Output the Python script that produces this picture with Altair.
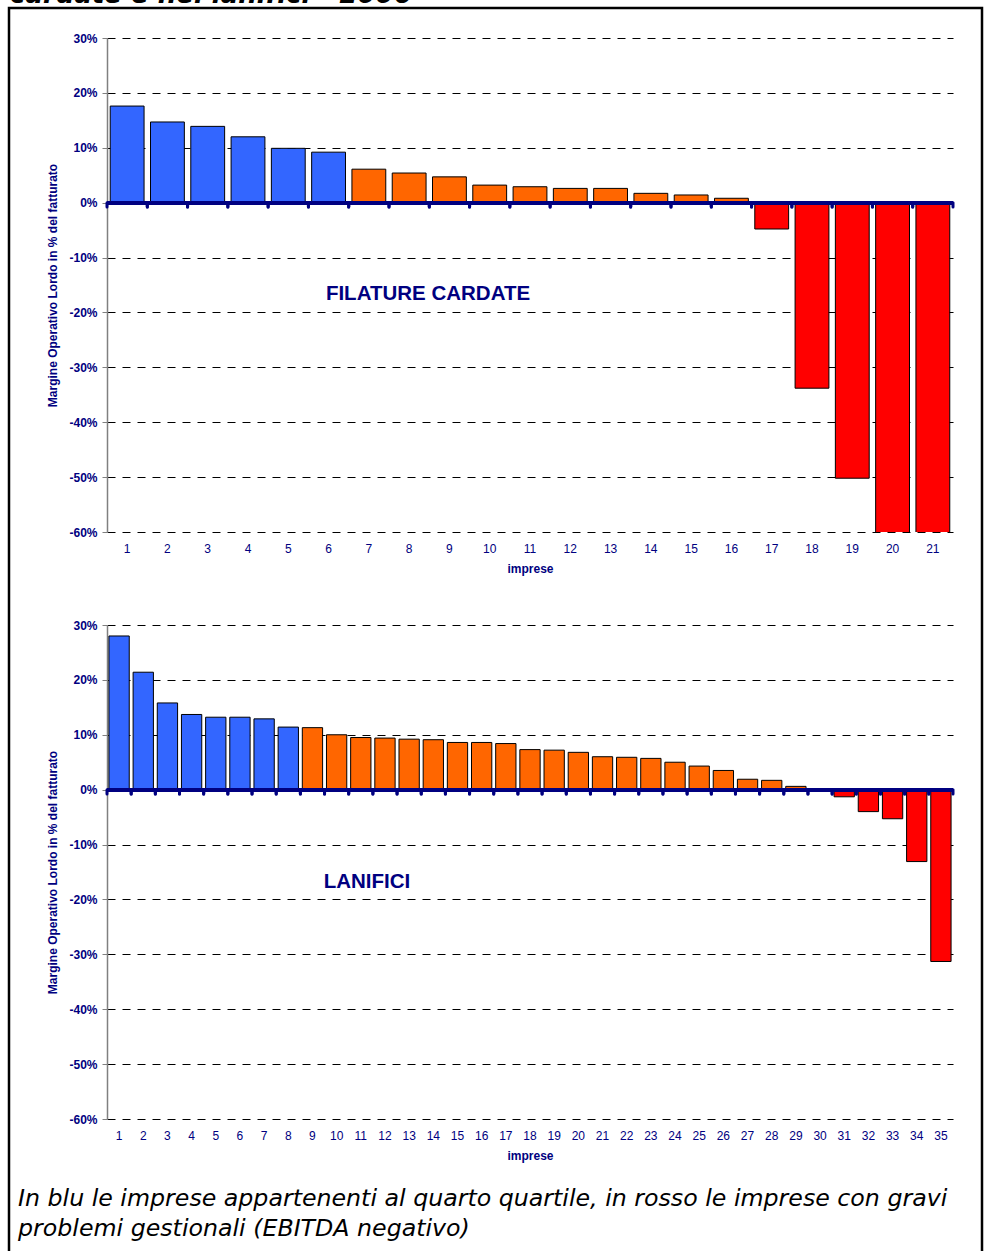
import altair as alt
import pandas as pd

# ---------------- data ----------------
top_imprese = list(range(1, 22))
top_margine = [17.6, 14.7, 13.9, 12.0, 9.9, 9.2, 6.1, 5.4, 4.7, 3.2, 2.9, 2.6, 2.6,
               1.7, 1.4, 0.8, -4.8, -33.8, -50.2, -64.0, -70.0]
top_gruppo = ["quarto quartile"] * 6 + ["intermedie"] * 10 + ["EBITDA negativo"] * 5

bot_imprese = list(range(1, 36))
bot_margine = [28.0, 21.4, 15.8, 13.7, 13.2, 13.2, 12.9, 11.4, 11.3, 10.0, 9.5, 9.4,
               9.2, 9.1, 8.6, 8.6, 8.4, 7.3, 7.2, 6.8, 6.0, 5.9, 5.7, 5.0, 4.3, 3.5,
               1.9, 1.7, 0.6, -0.1, -1.3, -4.0, -5.3, -13.1, -31.3]
bot_gruppo = ["quarto quartile"] * 8 + ["intermedie"] * 21 + ["EBITDA negativo"] * 6

y_ticks = [-60, -50, -40, -30, -20, -10, 0, 10, 20, 30]
group_domain = ["quarto quartile", "intermedie", "EBITDA negativo"]
group_colors = ["#3366FF", "#FF6600", "#FF0000"]

y_title = "Margine Operativo Lordo in % del fatturato"
x_title = "imprese"
caption = ["In blu le imprese appartenenti al quarto quartile, in rosso le imprese con gravi",
           "problemi gestionali (EBITDA negativo)"]
page_title = "cardate e nei lanifici - 2006"

NAVY = "#000080"
FONT = "Liberation Sans"
W, H = 846, 494


def make_panel(imprese, margine, gruppo, sector, lab_x, lab_y, extras):
    df = pd.DataFrame({"impresa": imprese, "margine": margine, "gruppo": gruppo})
    base = alt.Chart(df)
    x_scale = alt.Scale(paddingInner=0, paddingOuter=0)
    y_scale = alt.Scale(domain=[-60, 30], nice=False, zero=False)
    x_axis = alt.Axis(title=x_title, labelAngle=0, ticks=False, domain=False, grid=False,
                      labelPadding=11, titlePadding=9, labelFont=FONT, labelFontSize=12,
                      labelColor=NAVY, titleFont=FONT, titleFontSize=12,
                      titleFontWeight="bold", titleColor=NAVY)
    y_axis = alt.Axis(title=y_title, values=y_ticks, labelExpr="datum.value + '%'",
                      grid=True, gridDash=[8, 7], gridColor="black", gridWidth=1,
                      gridOpacity=1, domainColor="#808080", domainWidth=1.5,
                      tickColor="#808080", tickSize=5, tickWidth=1, labelPadding=5,
                      labelFont=FONT, labelFontSize=12, labelFontWeight="bold",
                      labelColor=NAVY, titleFont=FONT, titleFontSize=12,
                      titleFontWeight="bold", titleColor=NAVY, titleX=-55,
                      titleBaseline="middle")
    bars = base.mark_bar(width=alt.RelativeBandSize(0.84), stroke="black",
                         strokeWidth=1, clip=True).encode(
        x=alt.X("impresa:O", scale=x_scale, axis=x_axis),
        y=alt.Y("margine:Q", scale=y_scale, axis=y_axis),
        color=alt.Color("gruppo:N", scale=alt.Scale(domain=group_domain, range=group_colors),
                        legend=None),
    )
    zero = base.mark_rule(color=NAVY, strokeWidth=3).encode(y=alt.datum(0))
    dots_l = base.mark_rule(color=NAVY, strokeWidth=3, strokeCap="round").encode(
        x=alt.X("impresa:O", bandPosition=0), y=alt.datum(0), y2=alt.datum(-0.8))
    dots_r = base.mark_rule(color=NAVY, strokeWidth=3, strokeCap="round").encode(
        x=alt.X("impresa:O", bandPosition=1), y=alt.datum(0), y2=alt.datum(-0.8))
    label = alt.Chart(pd.DataFrame({"t": [sector]})).mark_text(
        font=FONT, fontSize=20.5, fontWeight="bold", color=NAVY, align="center",
        baseline="middle").encode(text="t:N", x=alt.value(lab_x), y=alt.value(lab_y))
    return alt.layer(bars, zero, dots_l, dots_r, label, *extras).properties(width=W, height=H)


frame = alt.Chart(pd.DataFrame({"f": [0]})).mark_rect(
    fillOpacity=0, stroke="black", strokeWidth=2.5).encode(
    x=alt.value(-98), x2=alt.value(875), y=alt.value(-30), y2=alt.value(1262))
ttl = alt.Chart(pd.DataFrame({"t": [page_title]})).mark_text(
    font="DejaVu Sans", fontSize=26, fontWeight="bold", fontStyle="italic", color="black",
    align="left", baseline="alphabetic").encode(
    text="t:N", x=alt.value(-97), y=alt.value(-35))
cap = alt.Chart(pd.DataFrame({"t": [caption]})).mark_text(
    font="DejaVu Sans", fontSize=23.7, fontStyle="italic", color="black", align="left",
    baseline="top", lineHeight=30).encode(
    text="t:N", x=alt.value(-89), y=alt.value(562))

top = make_panel(top_imprese, top_margine, top_gruppo, "FILATURE CARDATE", 321, 256,
                 [frame, ttl])
bottom = make_panel(bot_imprese, bot_margine, bot_gruppo, "LANIFICI", 260, 257, [cap])

chart = alt.vconcat(top, bottom, spacing=93, bounds="flush").properties(
    padding={"left": 107, "top": 38, "right": 33, "bottom": 1213},
    autosize=alt.AutoSizeParams(type="none"),
    background="white",
).configure_view(stroke=None)

chart.save("out.html", embed_options={"renderer": "svg", "actions": False})
